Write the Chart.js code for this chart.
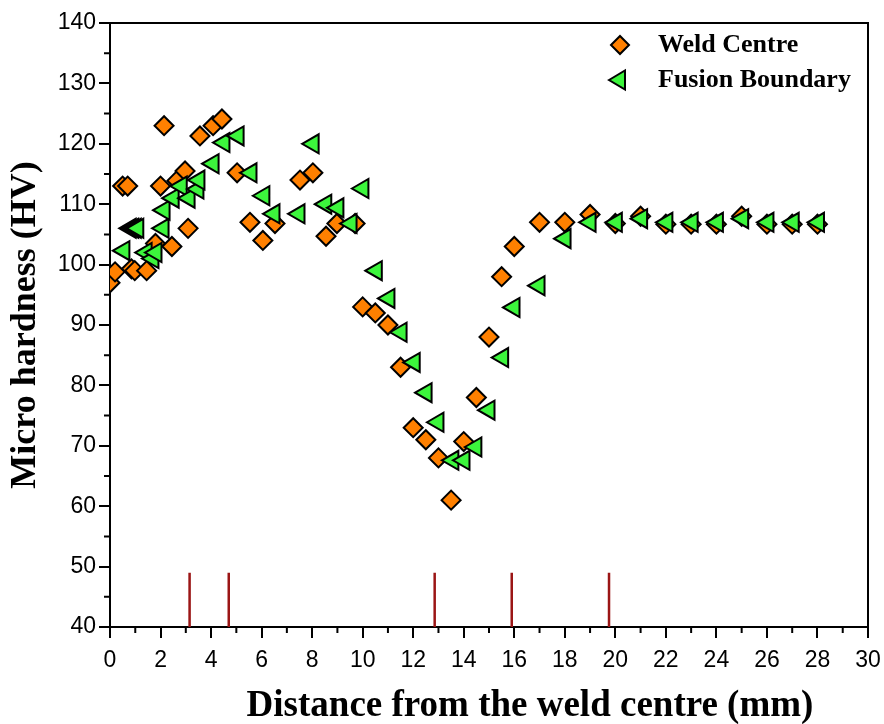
<!DOCTYPE html>
<html>
<head>
<meta charset="utf-8">
<script src="https://cdn.jsdelivr.net/npm/chart.js@4.4.1/dist/chart.umd.min.js"></script>
<style>
	body { margin: 0; background: #fff; }
	#wrap { width: 884px; height: 724px; }
</style>
</head>
<body>
<div id="wrap"><canvas id="chart" width="884" height="724"></canvas></div>
<script>
// Weld Centre (orange diamonds)
const weldX = [0.0, 0.2, 0.5, 0.7, 0.85, 0.98, 1.45, 1.8, 2.0, 2.14, 2.45, 2.65, 2.97, 3.09, 3.56, 4.08, 4.43, 5.03, 5.54, 6.05, 6.53, 7.52, 8.03, 8.55, 8.98, 9.7, 10.0, 10.5, 11.0, 11.5, 12.0, 12.5, 13.0, 13.5, 14.0, 14.5, 15.0, 15.5, 16.0, 17, 18, 19, 20, 21, 22, 23, 24, 25, 26, 27, 28];
const weldY = [97, 98.8, 113, 113, 99.3, 99, 99, 103.5, 113, 123, 103, 113.9, 115.5, 106, 121.3, 123, 124.1, 115.2, 107, 104, 106.8, 114, 115.2, 104.7, 106.8, 106.8, 93, 92, 90, 83, 73, 71, 68, 61, 70.7, 78, 88, 98, 103, 107, 107, 108.3, 106.8, 108, 106.7, 106.7, 106.7, 108, 106.7, 106.7, 106.7];

// Fusion Boundary (green left triangles)
const fusionX = [0.55, 0.8, 0.9, 1.0, 1.1, 1.43, 1.7, 1.82, 2.1, 2.14, 2.5, 2.82, 3.13, 3.48, 3.52, 4.08, 4.51, 5.07, 5.58, 6.09, 6.49, 7.48, 8.04, 8.54, 9.02, 9.54, 10.01, 10.54, 11.04, 11.52, 12.04, 12.51, 12.98, 13.57, 14.01, 14.48, 15.0, 15.54, 15.99, 16.98, 18.01, 19.0, 20.04, 21.04, 22.04, 23.04, 24.04, 25.04, 26.04, 27.04, 28.04];
const fusionY = [102.3, 106, 106, 106, 106, 102, 101, 102, 106, 109, 111, 113, 111, 112.5, 114, 116.7, 120.2, 121.3, 115.2, 111.4, 108.4, 108.4, 120, 110, 109.4, 106.8, 112.6, 99, 94.4, 88.8, 83.8, 78.8, 73.9, 67.6, 67.6, 69.8, 75.9, 84.6, 92.9, 96.5, 104.3, 107, 107, 107.6, 107, 107, 107, 107.6, 107, 107, 107];

// zone boundary markers (dark red vertical lines)
const zoneX = [3.15, 4.7, 12.85, 15.9, 19.75];
const zoneBottom = 40;
const zoneTop = 49;

const xTicks = { min: 0, max: 30, step: 2 };
const yTicks = { min: 40, max: 140, step: 10 };

const xTitle = 'Distance from the weld centre (mm)';
const yTitle = 'Micro hardness (HV)';
const legendLabels = ['Weld Centre', 'Fusion Boundary'];

const ORANGE = '#FF8000';
const GREEN = '#3CF53C';
const DARKRED = '#9B1515';
const SERIF = '"Liberation Serif", "Times New Roman", serif';

const toPoints = (xs, ys) => xs.map((x, i) => ({ x: x, y: ys[i] }));

const zonePoints = [];
zoneX.forEach(x => {
	zonePoints.push({ x: x, y: zoneBottom });
	zonePoints.push({ x: x, y: zoneTop });
	zonePoints.push({ x: x, y: null });
});

const extras = {
	id: 'extras',
	afterDraw(chart) {
		const ctx = chart.ctx;
		const a = chart.chartArea;
		const x = chart.scales.x;
		const y = chart.scales.y;
		ctx.save();

		// top + right frame
		ctx.strokeStyle = '#000';
		ctx.lineWidth = 2;
		ctx.beginPath();
		ctx.moveTo(a.left, a.top);
		ctx.lineTo(a.right, a.top);
		ctx.lineTo(a.right, a.bottom);
		ctx.stroke();

		// minor ticks
		ctx.lineWidth = 2;
		ctx.beginPath();
		for (let v = xTicks.min + 1; v < xTicks.max; v += 2) {
			const px = x.getPixelForValue(v);
			ctx.moveTo(px, a.bottom);
			ctx.lineTo(px, a.bottom + 6);
		}
		for (let v = yTicks.min + 5; v < yTicks.max; v += 10) {
			const py = y.getPixelForValue(v);
			ctx.moveTo(a.left, py);
			ctx.lineTo(a.left - 6, py);
		}
		ctx.stroke();

		// x axis title (sits right of centre in the original)
		ctx.fillStyle = '#000';
		ctx.font = 'bold 37px ' + SERIF;
		ctx.textBaseline = 'middle';
		ctx.textAlign = 'center';
		ctx.fillText(xTitle, 530, 706);

		// legend
		ctx.lineWidth = 2;
		ctx.strokeStyle = '#000';
		ctx.fillStyle = ORANGE;
		ctx.beginPath();
		ctx.moveTo(611, 45);
		ctx.lineTo(620, 36);
		ctx.lineTo(629, 45);
		ctx.lineTo(620, 54);
		ctx.closePath();
		ctx.fill();
		ctx.stroke();

		ctx.fillStyle = GREEN;
		ctx.beginPath();
		ctx.moveTo(609, 80);
		ctx.lineTo(625, 70.5);
		ctx.lineTo(625, 89.5);
		ctx.closePath();
		ctx.fill();
		ctx.stroke();

		ctx.fillStyle = '#000';
		ctx.font = 'bold 26px ' + SERIF;
		ctx.textAlign = 'left';
		ctx.fillText(legendLabels[0], 658, 45);
		ctx.fillText(legendLabels[1], 658, 80);
		ctx.restore();
	}
};

const tickFont = { family: '"Liberation Sans", Arial, sans-serif', size: 23 };
const titleFont = { family: SERIF, size: 36, weight: 'bold', lineHeight: 1 };

new Chart(document.getElementById('chart'), {
	type: 'scatter',
	data: {
		datasets: [
			{
				label: legendLabels[1],
				data: toPoints(fusionX, fusionY),
				pointStyle: 'triangle',
				rotation: -90,
				pointRadius: 11,
				pointBackgroundColor: GREEN,
				pointBorderColor: '#000',
				pointBorderWidth: 2,
				order: 1
			},
			{
				label: legendLabels[0],
				data: toPoints(weldX, weldY),
				pointStyle: 'rectRot',
				pointRadius: 9.5,
				pointBackgroundColor: ORANGE,
				pointBorderColor: '#000',
				pointBorderWidth: 2,
				order: 2
			},
			{
				label: 'zones',
				type: 'line',
				data: zonePoints,
				showLine: true,
				spanGaps: false,
				pointRadius: 0,
				borderColor: DARKRED,
				borderWidth: 2.5,
				order: 3
			}
		]
	},
	options: {
		responsive: false,
		animation: false,
		events: [],
		layout: { padding: { top: 23, right: 16, left: 0, bottom: 0 } },
		plugins: {
			legend: { display: false },
			tooltip: { enabled: false }
		},
		scales: {
			x: {
				type: 'linear',
				min: xTicks.min,
				max: xTicks.max,
				afterFit: s => {
					s.height = 97;
					s.paddingLeft = 0;
					s.paddingRight = 0;
				},
				ticks: { stepSize: xTicks.step, color: '#000', font: tickFont, padding: 9, maxRotation: 0 },
				grid: { display: true, drawOnChartArea: false, drawTicks: true, tickLength: 11, color: '#000', lineWidth: 2 },
				border: { display: true, color: '#000', width: 2 },
				title: { display: false }
			},
			y: {
				type: 'linear',
				min: yTicks.min,
				max: yTicks.max,
				afterFit: s => { s.width = 110; },
				ticks: { stepSize: yTicks.step, color: '#000', font: tickFont, padding: 3 },
				grid: { display: true, drawOnChartArea: false, drawTicks: true, tickLength: 11, color: '#000', lineWidth: 2 },
				border: { display: true, color: '#000', width: 2 },
				title: { display: true, text: yTitle, color: '#000', font: titleFont, padding: { top: 8, bottom: 0 } }
			}
		}
	},
	plugins: [extras]
});
</script>
</body>
</html>
